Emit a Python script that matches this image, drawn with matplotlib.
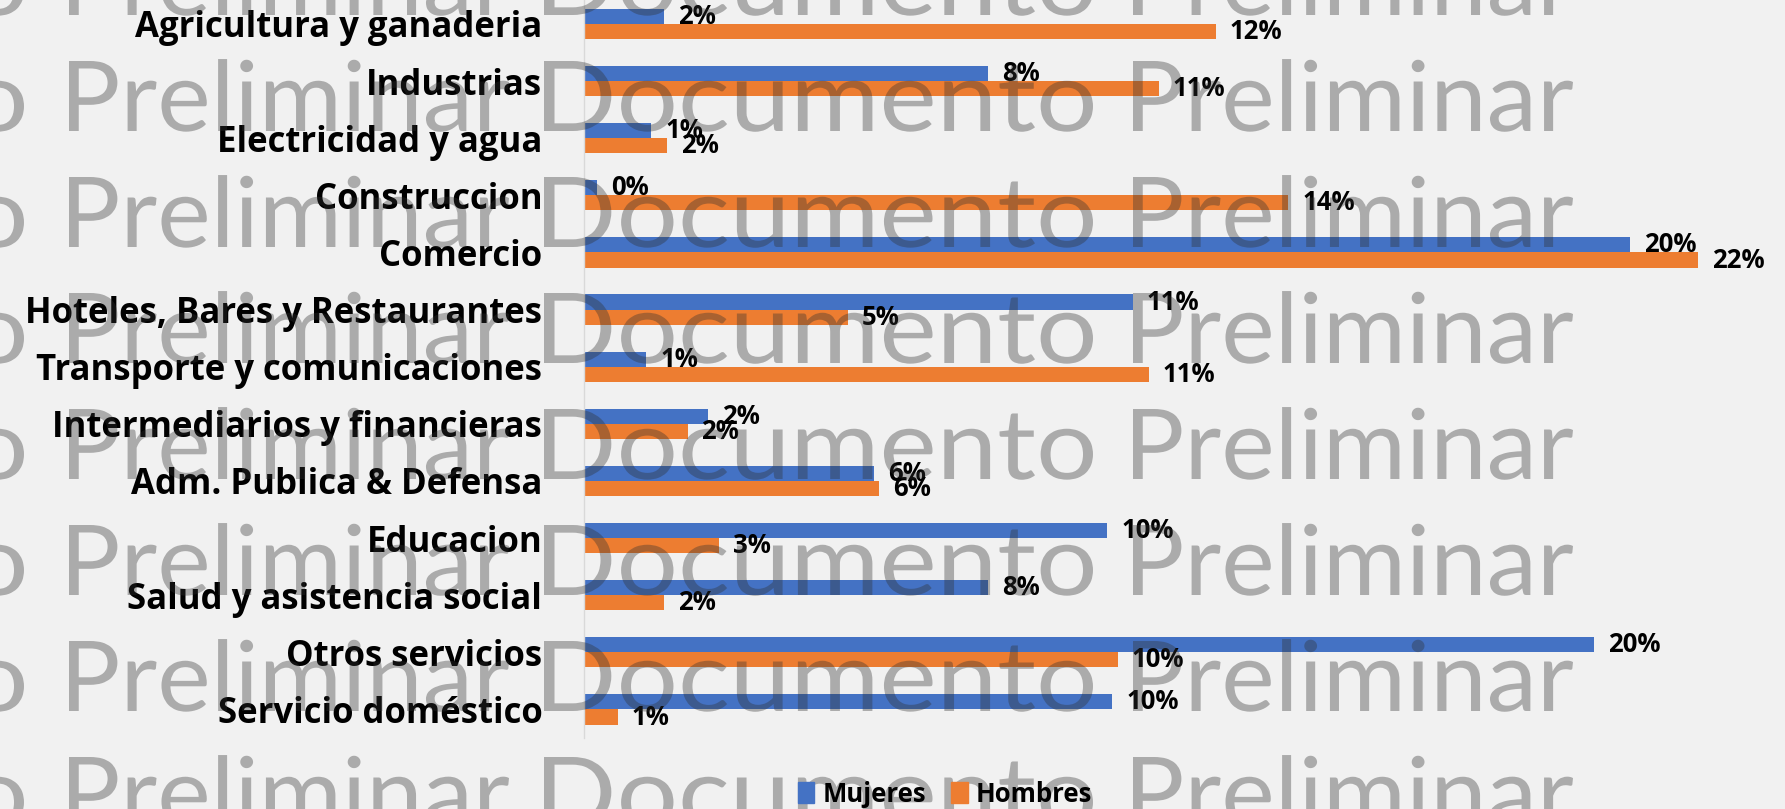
import numpy as np
import matplotlib.pyplot as plt
from matplotlib.patches import Patch, PathPatch
from matplotlib.textpath import TextPath
from matplotlib.font_manager import FontProperties
from matplotlib.transforms import Affine2D

# -------------------------------
# Data (share of employment, %)
# -------------------------------
categories = [
    "Agricultura y ganaderia", "Industrias", "Electricidad y agua", "Construccion",
    "Comercio", "Hoteles, Bares y Restaurantes", "Transporte y comunicaciones",
    "Intermediarios y financieras", "Adm. Publica & Defensa", "Educacion",
    "Salud y asistencia social", "Otros servicios", "Servicio doméstico",
]
mujeres = [1.55, 7.8, 1.3, 0.25, 20.2, 10.6, 1.2, 2.4, 5.6, 10.1, 7.8, 19.5, 10.2]
hombres = [12.2, 11.1, 1.6, 13.6, 21.5, 5.1, 10.9, 2.0, 5.7, 2.6, 1.55, 10.3, 0.65]
series_names = ["Mujeres", "Hombres"]

BLUE = "#4472C4"
ORANGE = "#ED7D31"
BG = "#F1F1F1"
FONT = "Open Sans"

W, H = 1785, 809
fig = plt.figure(figsize=(W / 100, H / 100), dpi=100, facecolor=BG)

# axes placed in pixel terms of the reference
ax = fig.add_axes([584 / W, 1 - 738 / H, 1 - 584 / W, (738 + 4.6) / H])
ax.set_facecolor("none")

y = np.arange(len(categories))
h = 0.265
b1 = ax.barh(y - h / 2, mujeres, height=h, color=BLUE)
b2 = ax.barh(y + h / 2, hombres, height=h, color=ORANGE)

for bars, vals in [(b1, mujeres), (b2, hombres)]:
    ax.bar_label(bars, labels=[f"{v:.0f}%" for v in vals], padding=10,
                 fontsize=18.5, fontweight="bold", family=FONT, color="black")

ax.set_xlim(0, (W - 584) / 51.8)
ax.set_ylim(len(categories) - 0.5, -0.5)
ax.set_yticks(y)
ax.set_yticklabels(categories, fontsize=25, fontweight="bold", family=FONT)
ax.tick_params(axis="y", length=0, pad=30)
ax.set_xticks([])
for s in ["top", "right", "bottom"]:
    ax.spines[s].set_visible(False)
ax.spines["left"].set_color("#D9D9D9")
ax.spines["left"].set_linewidth(1)

# -------------------------------
# Legend
# -------------------------------
handles = [Patch(color=BLUE), Patch(color=ORANGE)]
leg_font = FontProperties(family=FONT, weight="bold", size=18.5)
fig.legend(handles, series_names, loc="center", bbox_to_anchor=(945 / W, 1 - 794 / H),
           ncol=2, frameon=False, handlelength=0.65, handleheight=0.85,
           handletextpad=0.3, columnspacing=1.0, prop=leg_font)

# -------------------------------
# Watermark "Documento Preliminar" (drawn as paths, pixel sized)
# -------------------------------
fp = FontProperties(family="Lato")
cap = TextPath((0, 0), "P", size=100, prop=fp).get_extents().ymax
sy = 70 / cap
words = [("Documento", -525, 549), ("Preliminar", 69, 440),
         ("Documento", 544, 549), ("Preliminar", 1133, 440)]
for k in range(8):
    base = 15 + 116 * k
    for word, x0, wd in words:
        tp = TextPath((0, 0), word, size=100, prop=fp)
        ext = tp.get_extents()
        sx = wd / ext.width
        tr = (Affine2D().translate(-ext.xmin, 0).scale(sx / 100, sy / 100)
              .translate(x0 / 100, (H - base) / 100) + fig.dpi_scale_trans)
        fig.add_artist(PathPatch(tp, transform=tr, facecolor="#303030",
                                 edgecolor="none", alpha=0.36, zorder=5))

fig.savefig("out.png", dpi=100, facecolor=BG)
